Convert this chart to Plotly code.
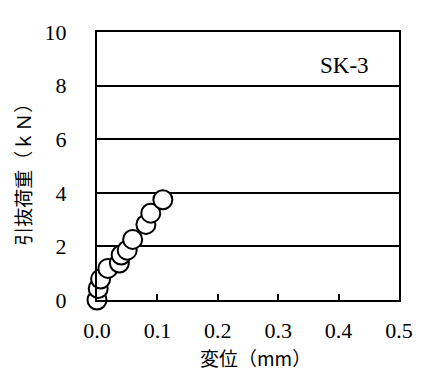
import plotly.graph_objects as go

disp = [0.0, 0.002, 0.006, 0.018, 0.037, 0.040, 0.050, 0.059, 0.081, 0.089, 0.109]
load = [0.0, 0.43, 0.78, 1.18, 1.38, 1.68, 1.86, 2.26, 2.82, 3.24, 3.74]
label = "SK-3"
x_title = "変位（mm）"
y_title = "引抜荷重（ｋＮ）"
x_ticks = [0.0, 0.1, 0.2, 0.3, 0.4, 0.5]
x_ticklabels = ["0.0", "0.1", "0.2", "0.3", "0.4", "0.5"]
y_ticks = [0, 2, 4, 6, 8, 10]

serif = "Liberation Serif"
jp = "Noto Sans CJK JP"

fig = go.Figure()
fig.add_trace(go.Scatter(
    x=disp, y=load, mode="markers",
    marker=dict(symbol="circle", size=19, color="white",
                line=dict(color="black", width=2)),
    cliponaxis=False, showlegend=False,
))
fig.add_annotation(x=0.82, y=0.874, xref="paper", yref="paper", text=label,
                   showarrow=False, xanchor="center", yanchor="middle",
                   font=dict(family=serif, size=23, color="black"))
fig.add_annotation(x=0.525, y=0, xref="paper", yref="paper", text=x_title,
                   showarrow=False, xanchor="center", yanchor="middle", yshift=-57,
                   font=dict(family=jp, size=19, color="black"))
fig.add_annotation(x=0, y=0.486, xref="paper", yref="paper", text=y_title,
                   showarrow=False, xanchor="center", yanchor="middle", xshift=-74,
                   textangle=-90,
                   font=dict(family=jp, size=19, color="black"))

fig.update_layout(
    width=417, height=366,
    margin=dict(l=89, r=14, t=14, b=74),
    paper_bgcolor="white", plot_bgcolor="white",
    font=dict(family=serif, size=22, color="black"),
)
fig.update_xaxes(
    range=[0, 0.5], tickvals=x_ticks, ticktext=x_ticklabels,
    showgrid=False, zeroline=False,
    showline=True, linecolor="black", linewidth=2, mirror=True,
    ticks="inside", ticklen=6, tickwidth=1.5, tickcolor="black",
    ticklabelstandoff=10,
    tickfont=dict(family=serif, size=22),
)
fig.update_yaxes(
    range=[0, 10], tickvals=y_ticks,
    showgrid=True, gridcolor="black", gridwidth=1.5, zeroline=False,
    showline=True, linecolor="black", linewidth=2, mirror=True,
    ticks="", ticklabelstandoff=24,
    tickfont=dict(family=serif, size=22),
)

fig.write_html("out.html")
